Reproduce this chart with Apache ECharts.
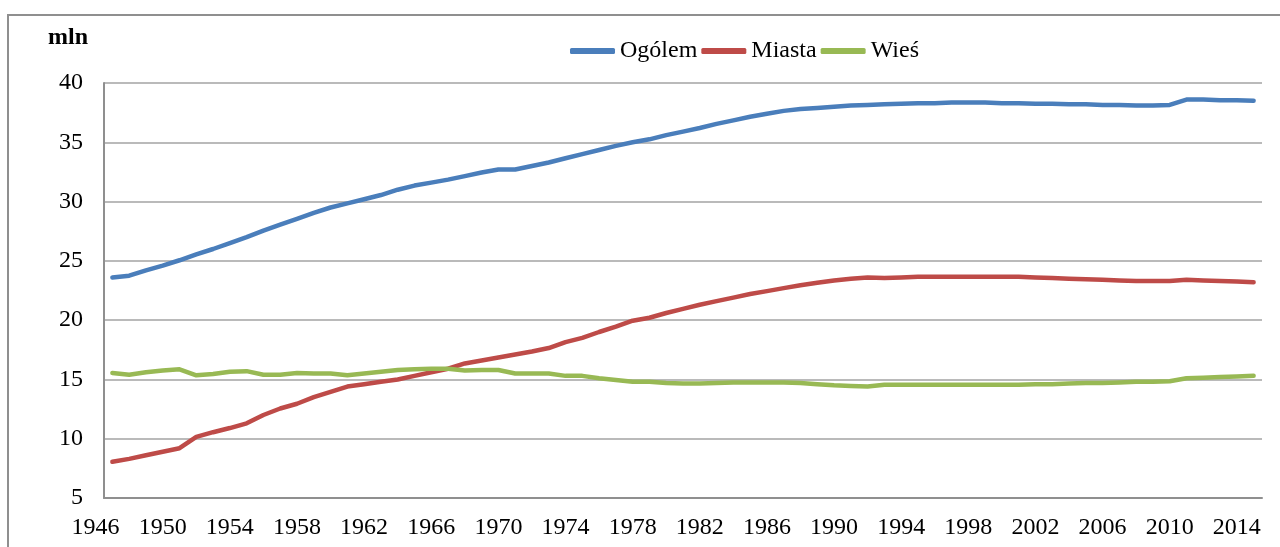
<!DOCTYPE html>
<html>
<head>
<meta charset="utf-8">
<script src="https://cdn.jsdelivr.net/npm/echarts@6/dist/echarts.min.js"></script>
<style>
  body { margin: 0; background: #fff; }
  #frame { position: absolute; left: 7px; top: 14px; width: 1400px; height: 700px; border: 2px solid #8f8f8f; }
  #chart { position: absolute; left: 0; top: 0; width: 1280px; height: 547px; }
</style>
</head>
<body>
<div id="frame"></div>
<div id="chart"></div>
<script>
    // lata z danymi
    var years = ['1947', '1948', '1949', '1950', '1951', '1952', '1953', '1954', '1955', '1956',
        '1957', '1958', '1959', '1960', '1961', '1962', '1963', '1964', '1965', '1966',
        '1967', '1968', '1969', '1970', '1971', '1972', '1973', '1974', '1975', '1976',
        '1977', '1978', '1979', '1980', '1981', '1982', '1983', '1984', '1985', '1986',
        '1987', '1988', '1989', '1990', '1991', '1992', '1993', '1994', '1995', '1996',
        '1997', '1998', '1999', '2000', '2001', '2002', '2003', '2004', '2005', '2006',
        '2007', '2008', '2009', '2010', '2011', '2012', '2013', '2014', '2015'];
    // etykiety osi X (zaczynaja sie od 1946)
    var tickYears = ['1946'].concat(years);

    var ogolem = [23.6, 23.75, 24.2, 24.6, 25.05, 25.55, 26.0, 26.5, 27.0, 27.55,
        28.05, 28.55, 29.05, 29.5, 29.85, 30.2, 30.55, 31.0, 31.35, 31.6,
        31.85, 32.15, 32.45, 32.7, 32.7, 33.0, 33.3, 33.65, 34.0, 34.35,
        34.7, 35.0, 35.25, 35.6, 35.9, 36.2, 36.55, 36.85, 37.15, 37.4,
        37.65, 37.8, 37.9, 38.0, 38.1, 38.15, 38.2, 38.25, 38.3, 38.3,
        38.35, 38.35, 38.35, 38.3, 38.3, 38.25, 38.25, 38.2, 38.2, 38.15,
        38.15, 38.1, 38.1, 38.15, 38.6, 38.6, 38.55, 38.55, 38.5];
    var miasta = [8.05, 8.3, 8.6, 8.9, 9.2, 10.15, 10.55, 10.9, 11.3, 12.0,
        12.55, 12.95, 13.5, 13.95, 14.4, 14.6, 14.8, 15.0, 15.3, 15.6,
        15.9, 16.35, 16.6, 16.85, 17.1, 17.35, 17.65, 18.15, 18.5, 19.0,
        19.45, 19.95, 20.2, 20.6, 20.95, 21.3, 21.6, 21.9, 22.2, 22.45,
        22.7, 22.95, 23.15, 23.35, 23.5, 23.6, 23.55, 23.6, 23.65, 23.65,
        23.65, 23.65, 23.65, 23.65, 23.65, 23.6, 23.55, 23.5, 23.45, 23.4,
        23.35, 23.3, 23.3, 23.3, 23.4, 23.35, 23.3, 23.25, 23.2];
    var wies = [15.55, 15.4, 15.6, 15.75, 15.85, 15.35, 15.45, 15.65, 15.7, 15.4,
        15.4, 15.55, 15.5, 15.5, 15.35, 15.5, 15.65, 15.8, 15.85, 15.9,
        15.9, 15.75, 15.8, 15.8, 15.5, 15.5, 15.5, 15.3, 15.3, 15.1,
        14.95, 14.8, 14.8, 14.7, 14.65, 14.65, 14.7, 14.75, 14.75, 14.75,
        14.75, 14.7, 14.6, 14.5, 14.45, 14.4, 14.55, 14.55, 14.55, 14.55,
        14.55, 14.55, 14.55, 14.55, 14.55, 14.6, 14.6, 14.65, 14.7, 14.7,
        14.75, 14.8, 14.8, 14.85, 15.1, 15.15, 15.2, 15.25, 15.3];

    var font = 'Liberation Serif';
    var gray = '#8f8f8f';

    var myChart = echarts.init(document.getElementById('chart'));
    myChart.setOption({
        animation: false,
        title: {
            text: 'mln',
            left: 43,
            top: 21,
            textStyle: { fontFamily: font, fontSize: 24, fontWeight: 'bold', color: '#000' }
        },
        legend: {
            left: 570,
            top: 39,
            padding: 0,
            icon: 'roundRect',
            itemWidth: 45,
            itemHeight: 6,
            itemGap: 4,
            textStyle: { fontFamily: font, fontSize: 24, color: '#000' },
            data: ['Ogólem', 'Miasta', 'Wieś']
        },
        grid: [
            { left: 104, right: 18, top: 83, bottom: 49 },
            // druga siatka tylko dla etykiet lat
            { left: 87.2, right: 18, top: 83, bottom: 49 }
        ],
        xAxis: [{
            type: 'category',
            gridIndex: 0,
            data: years,
            boundaryGap: true,
            axisLine: { lineStyle: { color: gray, width: 2 } },
            axisTick: { show: false },
            axisLabel: { show: false },
            splitLine: { show: false }
        }, {
            type: 'category',
            gridIndex: 1,
            data: tickYears,
            boundaryGap: true,
            axisLine: { show: false },
            axisTick: { show: false },
            axisLabel: {
                interval: 3,
                margin: 18,
                fontFamily: font,
                fontSize: 24,
                color: '#000'
            },
            splitLine: { show: false }
        }],
        yAxis: [{
            type: 'value',
            gridIndex: 0,
            min: 5,
            max: 40,
            interval: 5,
            axisLine: { show: true, lineStyle: { color: gray, width: 2 } },
            axisTick: { show: false },
            axisLabel: { margin: 21, fontFamily: font, fontSize: 24, color: '#000' },
            splitLine: { lineStyle: { color: '#a3a3a3', width: 1.5 } }
        }, {
            type: 'value',
            gridIndex: 1,
            min: 5,
            max: 40,
            show: false
        }],
        series: [{
            name: 'Ogólem',
            type: 'line',
            data: ogolem,
            symbol: 'none',
            lineStyle: { color: '#4a7ebb', width: 4.5, cap: 'round', join: 'round' },
            itemStyle: { color: '#4a7ebb' }
        }, {
            name: 'Miasta',
            type: 'line',
            data: miasta,
            symbol: 'none',
            lineStyle: { color: '#be4b48', width: 4.5, cap: 'round', join: 'round' },
            itemStyle: { color: '#be4b48' }
        }, {
            name: 'Wieś',
            type: 'line',
            data: wies,
            symbol: 'none',
            lineStyle: { color: '#98b954', width: 4.5, cap: 'round', join: 'round' },
            itemStyle: { color: '#98b954' }
        }]
    });
</script>
</body>
</html>
